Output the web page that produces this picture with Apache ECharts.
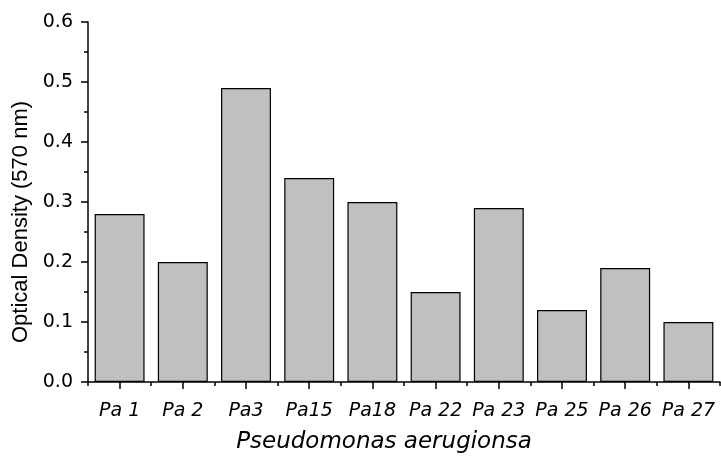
<!DOCTYPE html>
<html><head><meta charset="utf-8">
<script src="https://cdn.jsdelivr.net/npm/echarts@6/dist/echarts.min.js"></script>
<style>html,body{margin:0;padding:0;background:#fff}#c{width:721px;height:459px}</style>
</head><body><div id="c"></div>
<script>
const categories = ['Pa 1','Pa 2','Pa3','Pa15','Pa18','Pa 22','Pa 23','Pa 25','Pa 26','Pa 27'];
const values = [0.28, 0.20, 0.49, 0.34, 0.30, 0.15, 0.29, 0.12, 0.19, 0.10];
const yTicks = [0, 0.1, 0.2, 0.3, 0.4, 0.5, 0.6];
const xTitle = 'Pseudomonas aerugionsa';
const yTitle = 'Optical Density (570 nm)';

const chart = echarts.init(document.getElementById('c'));
const wide = 'DejaVu Sans, sans-serif';
const arial = 'Liberation Sans, Arial, sans-serif';
const tickStyle = {color: '#000', width: 1.5};
chart.setOption({
  animation: false,
  grid: {left: 88, right: 1, top: 22, bottom: 69, containLabel: false},
  xAxis: [{
    type: 'category', data: categories,
    axisLine: {show: true, lineStyle: tickStyle},
    axisTick: {show: false},
    axisLabel: {color: '#000', fontSize: 19, fontStyle: 'italic', fontFamily: wide, margin: 20, interval: 0},
    name: xTitle, nameLocation: 'middle', nameGap: 49,
    nameTextStyle: {color: '#000', fontSize: 23, fontStyle: 'italic', fontFamily: wide, padding: [0, 40, 0, 0]}
  }, {
    // tick helper: category boundaries (major) and category centres (minor)
    type: 'value', min: 0, max: categories.length, interval: 1, position: 'bottom',
    axisLine: {show: false},
    axisTick: {show: true, inside: false, length: 4, lineStyle: tickStyle},
    minorTick: {show: true, splitNumber: 2, length: 7, lineStyle: tickStyle},
    splitLine: {show: false},
    axisLabel: {show: false}
  }],
  yAxis: {
    type: 'value', min: yTicks[0], max: yTicks[yTicks.length-1], interval: 0.1,
    axisLine: {show: true, lineStyle: tickStyle},
    axisTick: {show: true, inside: false, length: 7, lineStyle: tickStyle},
    minorTick: {show: true, splitNumber: 2, length: 4, lineStyle: tickStyle},
    splitLine: {show: false},
    axisLabel: {color: '#000', fontSize: 19, fontFamily: wide, margin: 15, formatter: v => v.toFixed(1)},
    name: yTitle, nameLocation: 'middle', nameGap: 56,
    nameTextStyle: {color: '#000', fontSize: 22, fontFamily: arial, padding: [0, 40, 0, 0]}
  },
  series: [{
    type: 'bar', data: values, xAxisIndex: 0,
    barCategoryGap: '21%',
    itemStyle: {color: '#c0c0c0', borderColor: '#000', borderWidth: 1.2}
  }]
});
</script></body></html>
